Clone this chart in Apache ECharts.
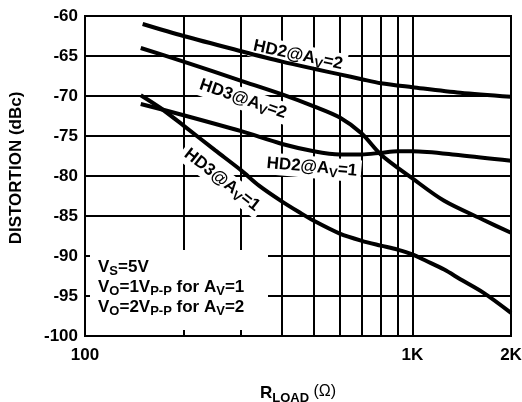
<!DOCTYPE html>
<html>
<head>
<meta charset="utf-8">
<script src="https://cdn.jsdelivr.net/npm/echarts@6/dist/echarts.min.js"></script>
<style>
  html, body { margin: 0; padding: 0; background: #fff; }
  #chart { width: 522px; height: 402px; }
</style>
</head>
<body>
<div id="chart"></div>
<script>
// Load resistance (ohms) vs distortion (dBc)
const hd2Av2 = [[150, -61], [200, -62.5], [300, -64.4], [400, -65.7], [500, -66.6], [600, -67.3],
  [700, -67.9], [800, -68.4], [1000, -68.9], [1400, -69.6], [2000, -70.1]];
const hd3Av2 = [[148, -64], [200, -65.7], [300, -68.1], [400, -69.8], [500, -71.3], [600, -72.7],
  [700, -74.7], [800, -77.3], [1000, -80.3], [1250, -83.1], [1650, -85.5], [2000, -87.1]];
const hd2Av1 = [[148, -71], [200, -72.4], [300, -74.4], [400, -76.0], [500, -76.9], [600, -77.3],
  [700, -77.3], [800, -77.1], [900, -76.9], [1000, -76.9], [1400, -77.4], [2000, -78.1]];
const hd3Av1 = [[148, -69.9], [170, -71.5], [200, -73.7], [250, -76.8], [300, -79.3], [340, -81.2],
  [400, -83.2], [450, -84.5], [500, -85.6], [600, -87.2], [700, -88.1], [800, -88.7], [900, -89.2],
  [1000, -89.8], [1100, -90.6], [1250, -91.7], [1400, -92.9], [1650, -94.6], [2000, -97.1]];

// Vertical grid positions on the log axis
const xGrid = [200, 300, 400, 500, 600, 700, 800, 900, 1000];

// Curve labels: [rich text, R, dBc, rotation in degrees]
const curveLabels = [
  ['{t|HD2@A}{s|V}{t|=2}', 447, -64.9, 12],
  ['{t|HD3@A}{s|V}{t|=2}', 304, -70.4, 19],
  ['{t|HD2@A}{s|V}{t|=1}', 493, -78.9, 5],
  ['{t|HD3@A}{s|V}{t|=1}', 262, -80.5, 38]
];

const FONT = '"Liberation Sans", Arial, Helvetica, sans-serif';
const rich = {
  t: { fontFamily: FONT, fontWeight: 'bold', fontSize: 17, color: '#000', lineHeight: 20 },
  s: { fontFamily: FONT, fontWeight: 'bold', fontSize: 13, color: '#000', lineHeight: 20, padding: [9, 0, 0, 0] }
};

const curveStyle = (data) => ({
  type: 'line', data, smooth: 0.3, showSymbol: false, z: 5, silent: true,
  lineStyle: { color: '#000', width: 4 }, animation: false
});

const chart = echarts.init(document.getElementById('chart'), null, { renderer: 'canvas' });

chart.setOption({
  backgroundColor: '#fff',
  animation: false,
  grid: {
    left: 85, right: 11, top: 16, bottom: 66, outerBoundsMode: 'none', containLabel: false,
    show: true, borderColor: '#000', borderWidth: 2, z: 0
  },
  xAxis: {
    type: 'log', logBase: 10, min: 100, max: 2000,
    axisLine: { show: false },
    axisTick: { show: false },
    splitLine: { show: false },
    axisLabel: {
      fontFamily: FONT, fontWeight: 'bold', fontSize: 17, color: '#000', margin: 11,
      formatter: v => v >= 1000 ? (v / 1000) + 'K' : String(v)
    },
    name: '{r|R}{s|LOAD}{o| (Ω)}',
    nameLocation: 'middle', nameGap: 47,
    nameTextStyle: {
      rich: {
        r: { fontFamily: FONT, fontWeight: 'bold', fontSize: 17, color: '#000', lineHeight: 20 },
        s: { fontFamily: FONT, fontWeight: 'bold', fontSize: 13, color: '#000', lineHeight: 20, padding: [10, 0, 0, 0] },
        o: { fontFamily: FONT, fontSize: 16, color: '#000', lineHeight: 20, padding: [0, 0, 3, 0] }
      }
    }
  },
  yAxis: {
    type: 'value', min: -100, max: -60, interval: 5,
    axisLine: { show: false },
    axisTick: { show: false },
    splitLine: { show: true, lineStyle: { color: '#000', width: 2 } },
    axisLabel: { fontFamily: FONT, fontWeight: 'bold', fontSize: 17, color: '#000', margin: 7 },
    name: 'DISTORTION (dBc)',
    nameLocation: 'middle', nameGap: 60, nameRotate: 90,
    nameTextStyle: { fontFamily: FONT, fontWeight: 'bold', fontSize: 17, color: '#000', padding: [0, 0, 0, 16] }
  },
  series: [
    {
      type: 'line', data: [], z: 1, silent: true,
      markLine: {
        z: 1, silent: true, symbol: 'none', animation: false,
        label: { show: false },
        lineStyle: { color: '#000', width: 2, type: 'solid' },
        data: xGrid.map(v => ({ xAxis: v }))
      }
    },
    curveStyle(hd2Av2),
    curveStyle(hd3Av2),
    curveStyle(hd2Av1),
    curveStyle(hd3Av1)
  ]
});

// Annotations placed from data coordinates
const graphics = curveLabels.map(([text, r, db, rot]) => {
  const p = chart.convertToPixel({ gridIndex: 0 }, [r, db]);
  return {
    type: 'text', x: p[0], y: p[1], rotation: -rot * Math.PI / 180, z: 3, silent: true,
    style: {
      text, rich, align: 'center', verticalAlign: 'middle',
      backgroundColor: '#fff', padding: [1, 4, 1, 4]
    }
  };
});

const tl = chart.convertToPixel({ gridIndex: 0 }, [100, -60]);
const br = chart.convertToPixel({ gridIndex: 0 }, [2000, -100]);
const boxLeft = tl[0] + 5, boxTop = br[1] - 86;
graphics.push({
  type: 'rect', z: 3, silent: true,
  shape: { x: boxLeft, y: boxTop, width: 178, height: 80 },
  style: { fill: '#fff' }
});
// Supply and output-swing conditions, one per line
['{t|V}{s|S}{t|=5V}',
 '{t|V}{s|O}{t|=1V}{s|P-P}{t| for A}{s|V}{t|=1}',
 '{t|V}{s|O}{t|=2V}{s|P-P}{t| for A}{s|V}{t|=2}'].forEach((line, i) => {
  graphics.push({
    type: 'text', z: 4, silent: true, x: boxLeft + 8, y: boxTop + 17 + i * 20,
    style: { text: line, rich, align: 'left', verticalAlign: 'middle' }
  });
});

chart.setOption({ graphic: graphics });
</script>
</body>
</html>
